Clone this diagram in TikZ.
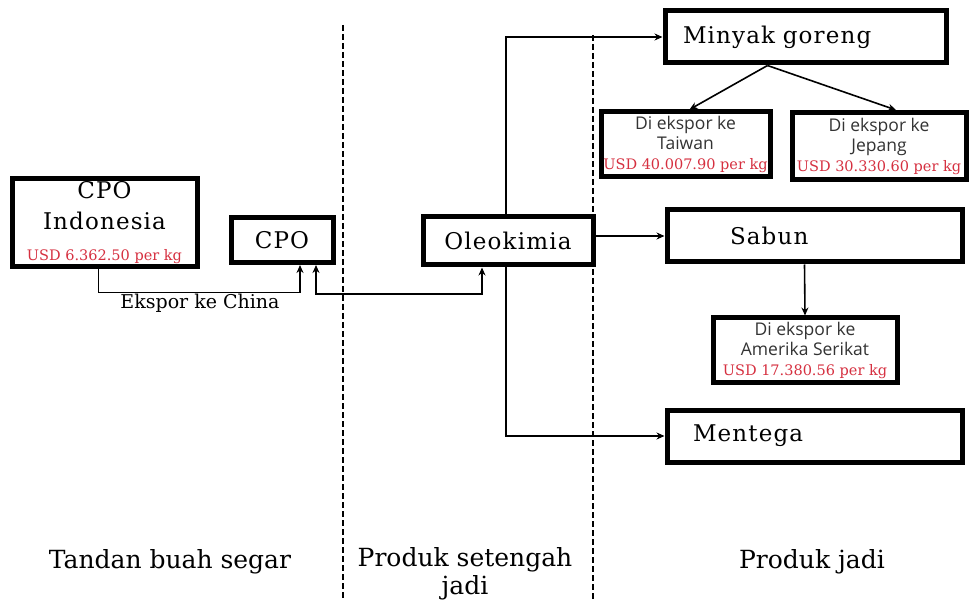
\documentclass[tikz,border=0pt]{standalone}
\usepackage{fontspec}
\setmainfont{DejaVu Serif}
\newfontfamily\boxfont{DejaVu Serif}[LetterSpace=5]
\newfontfamily\exportfont{Open Sans}
\usetikzlibrary{arrows.meta}
\definecolor{pricered}{RGB}{214,48,64}
\newcommand{\price}[1]{{\color{pricered}\rmfamily\fontsize{14.5}{20}\selectfont #1}}

\begin{document}
\begin{tikzpicture}[x=1pt,y=-1pt,
    box/.style={draw,line width=5pt,fill=white,inner sep=0pt,align=center},
    serifbox/.style={box,font=\boxfont\fontsize{23}{31}\selectfont},
    prod/.style={box,minimum width=#1,text width=#1,minimum height=52pt,
      align=left,font=\boxfont\fontsize{23}{26}\selectfont},
    export/.style={box,font=\exportfont\fontsize{17.5}{20}\selectfont,text=black!80},
    flow/.style={line width=1.6pt,-{Stealth[length=8pt,width=7pt]}},
    divider/.style={line width=1.6pt,dash pattern=on 6pt off 3pt},
    region/.style={font=\fontsize{25}{28}\selectfont,align=center}]
  \useasboundingbox (0,0) rectangle (969,601);

  \draw[divider] (343,25) -- (343,601);
  \draw[divider] (593,35) -- (593,601);

  \node[serifbox,minimum width=185pt,minimum height=88pt] (cpoind) at (104.5,223)
    {CPO\\Indonesia\\\price{USD 6.362.50 per kg}};
  \node[serifbox,minimum width=102pt,minimum height=45pt] (cpo) at (282,240) {CPO};
  \node[serifbox,minimum width=170pt,minimum height=48pt] (oleo) at (508,241) {Oleokimia};

  \node[prod=281pt] (minyak) at (805.5,37) {\hspace*{18pt}Minyak goreng};
  \node[prod=295pt] (sabun) at (814.5,236) {\hspace*{63pt}Sabun};
  \node[prod=295pt] (mentega) at (814.5,436) {\hspace*{26pt}Mentega};

  \node[export,minimum width=169pt,minimum height=65pt] (taiwan) at (685.5,144.5)
    {Di ekspor ke\\Taiwan\\\price{USD 40.007.90 per kg}};
  \node[export,minimum width=174pt,minimum height=67pt] (jepang) at (879,146)
    {Di ekspor ke\\Jepang\\\price{USD 30.330.60 per kg}};
  \node[export,minimum width=184pt,minimum height=65pt] (amerika) at (805,350.5)
    {Di ekspor ke\\Amerika Serikat\\\price{USD 17.380.56 per kg}};

  \node[font=\fontsize{19}{22}\selectfont] (china) at (200,303) {Ekspor ke China};

  \node[region] (tbs) at (170,562) {Tandan buah segar};
  \node[region] (setengah) at (465,574) {Produk setengah\\jadi};
  \node[region] (jadi) at (812,562) {Produk jadi};

  \begin{scope}[flow]
    \draw ([xshift=-6pt]cpoind.south) -- ++(0,23) -| ([xshift=18pt]cpo.south);
    \draw[{Stealth[length=8pt,width=7pt]}-{Stealth[length=8pt,width=7pt]}]
      ([xshift=34pt]cpo.south) -- ++(0,29) -| ([xshift=-26pt]oleo.south);
    \draw ([xshift=-2pt]oleo.north) |- (minyak.west);
    \draw (oleo.east |- sabun.west) -- (sabun.west);
    \draw ([xshift=-2pt]oleo.south) |- (mentega.west);
    \draw ([xshift=-38pt]minyak.south) -- ([xshift=4pt]taiwan.north);
    \draw ([xshift=-38pt]minyak.south) -- ([xshift=17pt]jepang.north);
    \draw ([xshift=-10pt]sabun.south) -- (amerika.north);
  \end{scope}
\end{tikzpicture}
\end{document}
